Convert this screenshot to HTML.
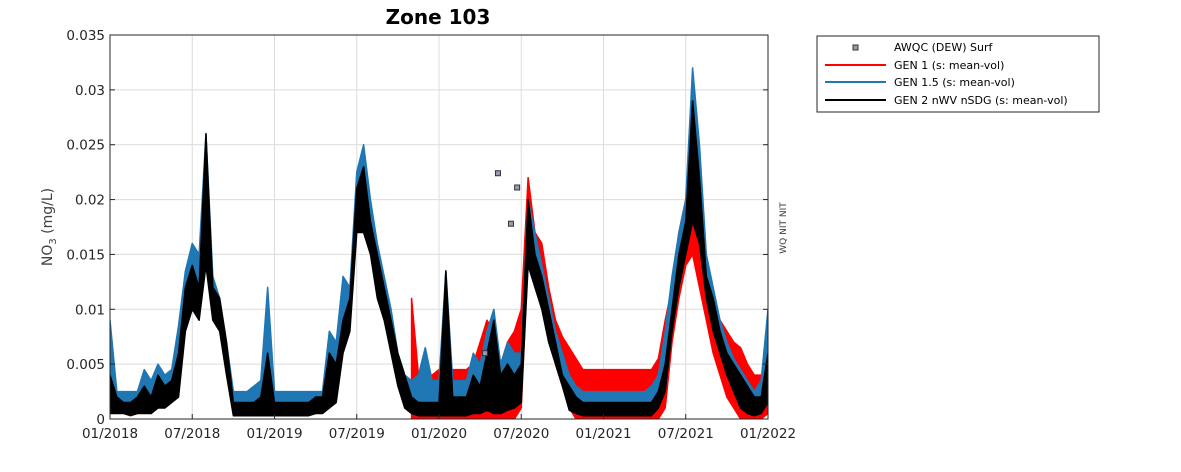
<!DOCTYPE html>
<html><head><meta charset="utf-8"><style>
body{margin:0;background:#fff;}
svg{display:block;font-family:"DejaVu Sans","Liberation Sans",sans-serif;}
</style></head><body>
<svg id="chart" width="1181" height="472" xmlns="http://www.w3.org/2000/svg">
<text x="438" y="24" text-anchor="middle" font-size="20" font-weight="bold" fill="#000">Zone 103</text>
<text transform="translate(52,227) rotate(-90)" text-anchor="middle" font-size="14" fill="#404040">NO<tspan font-size="10" dy="4">3</tspan><tspan dy="-4"> (mg/L)</tspan></text>
<text transform="translate(786,228) rotate(-90)" text-anchor="middle" font-size="9" fill="#404040">WQ NIT NIT</text>
<g id="grid"></g>
<defs><clipPath id="clip"><rect x="110" y="35" width="658" height="384"/></clipPath></defs>
<g id="series" clip-path="url(#clip)"></g>
<g id="axes"></g>
<g>
<rect x="817" y="36" width="282" height="76" fill="#fff" stroke="#262626" stroke-width="1"/>
<rect x="853" y="45" width="5" height="5" fill="#9a9ab4" stroke="#333"/>
<text x="894" y="51" font-size="11" fill="#000">AWQC (DEW) Surf</text>
<line x1="825" y1="65" x2="886" y2="65" stroke="#ff0000" stroke-width="2"/>
<text x="894" y="69" font-size="11" fill="#000">GEN 1 (s: mean-vol)</text>
<line x1="825" y1="82" x2="886" y2="82" stroke="#1f77b4" stroke-width="2"/>
<text x="894" y="86" font-size="11" fill="#000">GEN 1.5 (s: mean-vol)</text>
<line x1="825" y1="100" x2="886" y2="100" stroke="#000" stroke-width="2"/>
<text x="894" y="104" font-size="11" fill="#000">GEN 2 nWV nSDG (s: mean-vol)</text>
</g>
</svg>
<script>
// values in 0.001 mg/L, half-month steps from 01/2018
const blueHi=[9,2.5,2.5,2.5,2.5,4.5,3.5,5,4,4.5, 8.5,13.5,16,15,26,13,11,7,2.5,2.5, 2.5,3,3.5,12,2.5,2.5,2.5,2.5,2.5,2.5, 2.5,2.5,8,7,13,12,22.5,25,20,16, 13,10,6,4,3.5,4,6.5,3.5,3.5,13.5, 3.5,3.5,3.5,6,5,8,10,5,7,6, 6,20,17,14,11,8,6,4,3,2.5, 2.5,2.5,2.5,2.5,2.5,2.5,2.5,2.5,2.5,3, 4,8,13,17,20,32,25,15,12,9, 7,5.5,4.5,3.5,2.5,3.5,10];
const blueLo=[1,1,1,0.8,1,1,1,1.5,1.5,2, 3,9,12,11,16,10,9,5,0.8,0.8, 0.8,0.8,0.8,0.8,0.8,0.8,0.8,0.8,0.8,0.8, 1,1,1.5,2,8,9,18,19,16,12, 10,7,4,2,1.5,1,1,1,1,1, 1,1,1,1,1,1.5,1,1,1.5,1.5, 2,15,13,11,8,6,4,1.5,1,0.8, 0.8,0.8,0.8,0.8,0.8,0.8,0.8,0.8,0.8,0.8, 1.5,3,9,13,16,20,18,12,9,7, 5,3.5,1.5,1,0.8,1,2];
const blackHi=[4,2,1.5,1.5,2,3,2,4,3,3.5, 6,12,14,12,26,12,11,7,1.5,1.5, 1.5,1.5,2,6,1.5,1.5,1.5,1.5,1.5,1.5, 2,2,6,5,9,11,21,23,18,15, 12,9,6,4,2,1.5,1.5,1.5,1.5,13.5, 2,2,2,4,3,6,9,4,5,4, 5,20,15,13,10,7,4,3,2,1.5, 1.5,1.5,1.5,1.5,1.5,1.5,1.5,1.5,1.5,1.5, 2.5,5,10,15,18,29,22,13,11,8, 6,5,4,3,2,2,6];
const blackLo=[0.5,0.5,0.5,0.3,0.5,0.5,0.5,1,1,1.5, 2,8,10,9,14,9,8,4,0.3,0.3, 0.3,0.3,0.3,0.3,0.3,0.3,0.3,0.3,0.3,0.3, 0.5,0.5,1,1.5,6,8,17,17,15,11, 9,6,3,1,0.5,0.3,0.3,0.3,0.3,0.3, 0.3,0.3,0.3,0.5,0.5,0.8,0.5,0.5,0.8,1, 1.5,14,12,10,7,5,3,0.8,0.5,0.3, 0.3,0.3,0.3,0.3,0.3,0.3,0.3,0.3,0.3,0.3, 1,2.5,8,12,15,18,16,11,8,6, 4,2.5,1,0.5,0.3,0.5,1.5];
const redStart=44;
const redHi=[11,4,4,4,4.5,4,4.5,4.5,4.5,5, 7,9,8,5,7,8,10,22,17,16, 12,9,7.5,6.5,5.5, 4.5,4.5,4.5,4.5,4.5,4.5,4.5,4.5,4.5,4.5,4.5, 5.5,9,12,17,20,22,16,13,11,9,8,7,6.5,5,4,4,5];
const redLo=[0,0,0,0,0,0,0,0,0,0, 0,0,0,0,0,0,1,15,13,11, 8,5,3,1,0, 0,0,0,0,0,0,0,0,0,0,0, 0,1,7,11,14,15,12,9,6,4,2,1,0,0,0,0,0.5];
const awqcMonths=[27.35,28.3,29.25,29.7];
const awqcValues=[6.0,22.4,17.8,21.1];
const xTickMonths=[0,6,12,18,24,30,36,42,48];
const xTickLabels=["01/2018","07/2018","01/2019","07/2019","01/2020","07/2020","01/2021","07/2021","01/2022"];
const yTickValues=[0,5,10,15,20,25,30,35];
const yTickLabels=["0","0.005","0.01","0.015","0.02","0.025","0.03","0.035"];

const X0=110,X1=768,Y0=419,Y1=35;
const xs=m=>X0+m*(X1-X0)/48;
const ys=v=>Y0-v*(Y0-Y1)/35;
const NS="http://www.w3.org/2000/svg";
function mk(tag,attrs,parent){const e=document.createElementNS(NS,tag);for(const k in attrs)e.setAttribute(k,attrs[k]);parent.appendChild(e);return e;}
const grid=document.getElementById('grid'),axes=document.getElementById('axes'),ser=document.getElementById('series');
xTickMonths.forEach((m,i)=>{
  const g=mk('line',{x1:xs(m),x2:xs(m),y1:Y1,y2:Y0,stroke:'#dcdcdc','stroke-width':1},grid);
  
  
  const t=mk('line',{x1:xs(m),x2:xs(m),y1:Y0,y2:Y0-5,stroke:'#262626'},axes);
  
  
  const l=mk('text',{x:xs(m),y:Y0+19,'text-anchor':'middle','font-size':13.5,fill:'#262626'},axes);
  l.textContent=xTickLabels[i];
  
  
});
yTickValues.forEach((v,i)=>{
  const g=mk('line',{x1:X0,x2:X1,y1:ys(v),y2:ys(v),stroke:'#dcdcdc','stroke-width':1},grid);
  
  
  const t=mk('line',{x1:X0,x2:X0+5,y1:ys(v),y2:ys(v),stroke:'#262626'},axes);
  
  
  const t2=mk('line',{x1:X1,x2:X1-5,y1:ys(v),y2:ys(v),stroke:'#262626'},axes);
  
  
  const l=mk('text',{x:X0-5,y:ys(v)+5,'text-anchor':'end','font-size':13.5,fill:'#262626'},axes);
  l.textContent=yTickLabels[i];
  
  
});
const box=mk('rect',{x:X0,y:Y1,width:X1-X0,height:Y0-Y1,fill:'none',stroke:'#262626','stroke-width':1},axes);



function band(hi,lo,start,color,name){
  const pts=[];
  for(let i=0;i<hi.length;i++)pts.push(xs((start+i)/2)+','+ys(hi[i]));
  for(let i=lo.length-1;i>=0;i--)pts.push(xs((start+i)/2)+','+ys(lo[i]));
  const p=mk('polygon',{points:pts.join(' '),fill:color,stroke:color,'stroke-width':1.5,'stroke-linejoin':'round'},ser);
  
  
}
band(redHi,redLo,redStart,'#ff0000','series-gen1');
band(blueHi,blueLo,0,'#1f77b4','series-gen15');
band(blackHi,blackLo,0,'#000000','series-gen2');
awqcMonths.forEach((m,i)=>{
  const r=mk('rect',{x:xs(m)-2.5,y:ys(awqcValues[i])-2.5,width:5,height:5,fill:'#9a9ab4',stroke:'#333','stroke-width':1},axes);
  
  
});
</script>
</body></html>
